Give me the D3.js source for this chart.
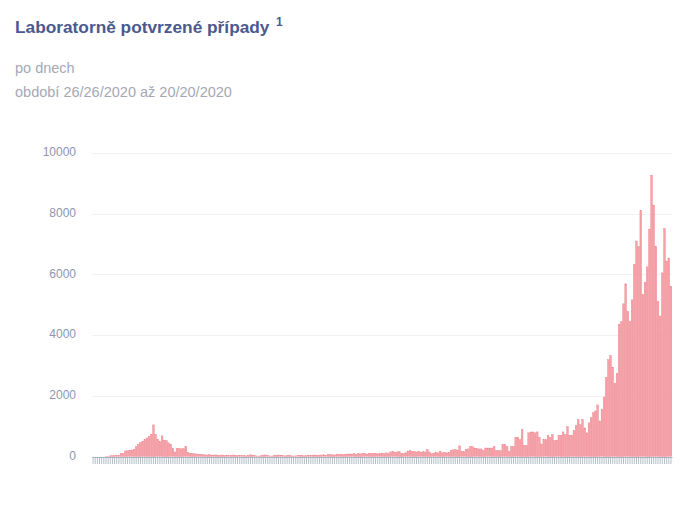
<!DOCTYPE html>
<html>
<head>
<meta charset="utf-8">
<script src="https://cdn.jsdelivr.net/npm/d3@7"></script>
<style>
  body { margin: 0; background: #fff; font-family: "Liberation Sans", Arial, sans-serif; }
  .title { font-size: 17.3px; font-weight: bold; fill: #4b5990; }
  .sub { font-size: 14.5px; fill: #a3a8b6; }
  .ylab { font-size: 12px; fill: #8d95b0; }
</style>
</head>
<body>
<div id="chart"></div>
<script>
// first day of the series, one bar per day
var startDay = new Date(2020, 0, 26);

var yTicks = [0, 2000, 4000, 6000, 8000, 10000];

// daily counts, Jan 26 .. Oct 20
var cases = [
  0, 0, 0, 0, 0, 0, 3, 5, 20, 25,
  30, 35, 40, 95, 105, 180, 190, 200, 215, 240,
  320, 400, 460, 500, 560, 610, 660, 730, 1040, 730,
  560, 500, 680, 540, 520, 450, 400, 260, 150, 270,
  260, 250, 260, 320, 130, 110, 100, 90, 80, 70,
  60, 65, 55, 50, 60, 45, 50, 55, 40, 45,
  50, 35, 45, 30, 40, 50, 35, 30, 40, 25,
  35, 20, 40, 55, 50, 30, 20, 15, 25, 45,
  50, 30, 20, 15, 35, 45, 50, 40, 25, 20,
  30, 45, 20, 15, 20, 40, 45, 35, 20, 30,
  25, 40, 45, 50, 40, 45, 50, 55, 40, 60,
  65, 55, 50, 60, 65, 70, 60, 75, 80, 85,
  80, 90, 70, 95, 85, 100, 90, 80, 105, 95,
  100, 110, 85, 100, 110, 90, 120, 100, 150, 160,
  140, 150, 160, 110, 100, 120, 180, 200, 170, 160,
  150, 170, 140, 160, 150, 230, 150, 90, 110, 140,
  120, 180, 120, 140, 120, 130, 200, 220, 230, 210,
  350, 160, 160, 240, 250, 330, 320, 280, 260, 250,
  250, 200, 280, 280, 280, 280, 330, 190, 190, 190,
  390, 390, 330, 170, 330, 330, 630, 630, 555, 890,
  370, 370, 780, 810, 810, 780, 810, 630, 410, 555,
  555, 700, 630, 720, 520, 520, 700, 700, 810, 720,
  980, 700, 700, 850, 1020, 1220, 1050, 1220, 940, 780,
  1110, 1280, 1440, 1500, 1700, 1170, 1550, 1960, 2610, 3190,
  3330, 2940, 2410, 2740, 4360, 4440, 5030, 5690, 4770, 4440,
  5160, 6330, 7100, 6920, 8100, 5330, 5740, 6250, 7490, 9270,
  8270, 6920, 5110, 4630, 6050, 7510, 6440, 6540, 5610
];

var days = cases.map(function(v, i) { return d3.timeDay.offset(startDay, i); });

var width = 700, height = 507;
var margin = { top: 153, right: 28, bottom: 51, left: 92 };
var w = width - margin.left - margin.right,
    h = height - margin.top - margin.bottom;

var svg = d3.select("#chart").append("svg").attr("width", width).attr("height", height);

// header texts
svg.append("text").attr("class", "title").attr("x", 15).attr("y", 33)
    .text("Laboratorně potvrzené případy");
svg.append("text").attr("class", "title").attr("x", 276).attr("y", 26)
    .style("font-size", "12px").text("1");
svg.append("text").attr("class", "sub").attr("x", 15).attr("y", 73).text("po dnech");
svg.append("text").attr("class", "sub").attr("x", 15).attr("y", 97)
    .text("období 26/26/2020 až 20/20/2020");

var g = svg.append("g").attr("transform", "translate(" + margin.left + "," + margin.top + ")");

var x = d3.scaleBand().domain(days).range([0, w]).paddingInner(0.22).paddingOuter(0.1);
var y = d3.scaleLinear().domain([0, 10000]).range([h + 0.5, 0]);

// grid + y labels
g.selectAll(".grid").data(yTicks.slice(1)).enter()
    .append("line")
    .attr("x1", 0).attr("x2", w)
    .attr("y1", function(d) { return Math.round(y(d)) + 0.5; })
    .attr("y2", function(d) { return Math.round(y(d)) + 0.5; })
    .attr("stroke", "#f1f2f5");

g.selectAll(".ylab").data(yTicks).enter()
    .append("text")
    .attr("class", "ylab")
    .attr("x", -16)
    .attr("y", function(d) { return y(d) - 1; })
    .attr("dy", "0.35em")
    .attr("text-anchor", "end")
    .text(function(d) { return d; });

// bars
g.selectAll(".bar").data(cases).enter()
    .append("rect")
    .attr("class", "bar")
    .attr("x", function(d, i) { return x(days[i]); })
    .attr("width", x.bandwidth())
    .attr("y", function(d) { return y(d); })
    .attr("height", function(d) { return y(0) - y(d); })
    .attr("fill", "#f6a2a9")
    .attr("stroke", "#ee7f89")
    .attr("stroke-width", 0.4);

// x axis: one tick per day, no labels
var xAxis = g.append("g")
    .attr("transform", "translate(0," + (h + 1) + ")")
    .call(d3.axisBottom(x).tickFormat("").tickSize(7).tickSizeOuter(0));
xAxis.select(".domain").attr("stroke", "#a9b6c2");
xAxis.selectAll(".tick line").attr("stroke", "#9eafbb").attr("stroke-width", 0.8);
</script>
</body>
</html>
